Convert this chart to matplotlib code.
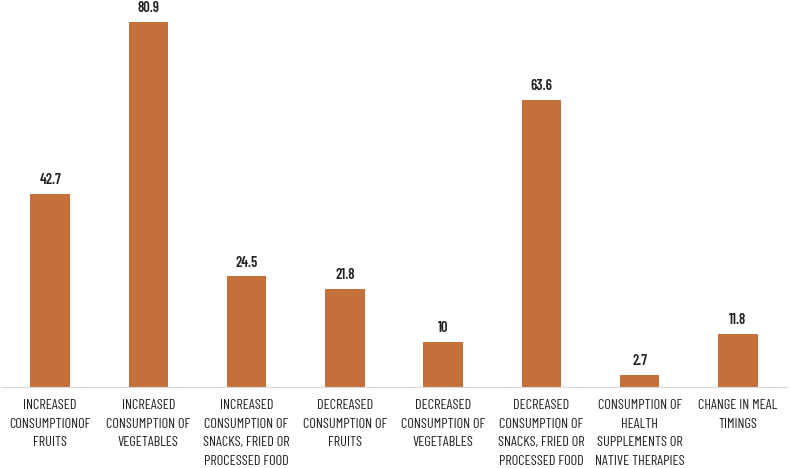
import matplotlib
matplotlib.use("Agg")
import matplotlib.pyplot as plt

categories = [
    "INCREASED\nCONSUMPTIONOF\nFRUITS",
    "INCREASED\nCONSUMPTION OF\nVEGETABLES",
    "INCREASED\nCONSUMPTION OF\nSNACKS, FRIED OR\nPROCESSED FOOD",
    "DECREASED\nCONSUMPTION OF\nFRUITS",
    "DECREASED\nCONSUMPTION OF\nVEGETABLES",
    "DECREASED\nCONSUMPTION OF\nSNACKS, FRIED OR\nPROCESSED FOOD",
    "CONSUMPTION OF\nHEALTH\nSUPPLEMENTS OR\nNATIVE THERAPIES",
    "CHANGE IN MEAL\nTIMINGS",
]
values = [42.7, 80.9, 24.5, 21.8, 10, 63.6, 2.7, 11.8]
value_labels = ["42.7", "80.9", "24.5", "21.8", "10", "63.6", "2.7", "11.8"]

plt.rcParams['font.family'] = ['Barlow Condensed', 'DejaVu Sans']

fig = plt.figure(figsize=(7.89, 4.68), dpi=100)
ax = fig.add_axes([1/789, 81/468, 786/789, 384/468])
x = list(range(len(values)))
ax.bar(x, values, width=0.4, color="#C5703A")
for xi, v, lab in zip(x, values, value_labels):
    ax.text(xi, v + 1.5, lab, ha="center", va="bottom", fontsize=10.5, fontweight="semibold", color="#222222")
ax.set_xlim(-0.5, 7.5)
ax.set_ylim(0, 85)
ax.set_yticks([])
ax.set_xticks(x)
ax.set_xticklabels(categories, fontsize=10.3, color="#222222", linespacing=1.58, va="top")
ax.tick_params(axis="x", length=0, pad=8.5)
for s in ["top", "right", "left"]:
    ax.spines[s].set_visible(False)
ax.spines["bottom"].set_color("#d9d9d9")
fig.savefig("out.png", dpi=100)
